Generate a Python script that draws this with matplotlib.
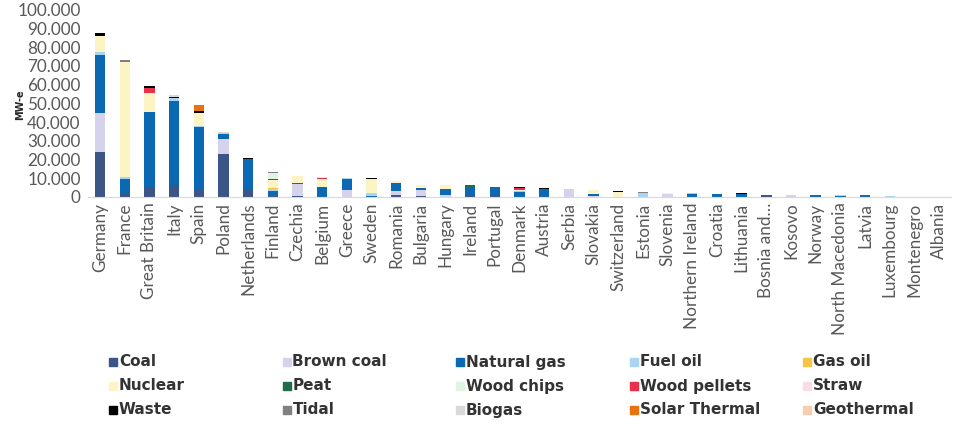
import matplotlib
matplotlib.use("Agg")
import matplotlib.pyplot as plt
from matplotlib.patches import Rectangle
from matplotlib.ticker import FuncFormatter, MultipleLocator
import numpy as np

# installed capacity by country and fuel (MW-e)
countries = ["Germany", "France", "Great Britain", "Italy", "Spain", "Poland",
             "Netherlands", "Finland", "Czechia", "Belgium", "Greece", "Sweden",
             "Romania", "Bulgaria", "Hungary", "Ireland", "Portugal", "Denmark",
             "Austria", "Serbia", "Slovakia", "Switzerland", "Estonia", "Slovenia",
             "Northern Ireland", "Croatia", "Lithuania", "Bosnia and…", "Kosovo",
             "Norway", "North Macedonia", "Latvia", "Luxembourg", "Montenegro",
             "Albania"]

#           DE     FR     GB     IT     ES     PL     NL    FI    CZ    BE    GR    SE    RO    BG    HU    IE    PT    DK    AT    RS    SK    CH    EE    SI    NI    HR    LT    BA    XK    NO    MK   LV   LU  ME AL
coal =     [23900, 1800,  5500,  6600,  3900,  23000, 3700, 700,  400,  0,    0,    0,    900,  300,  0,    500,  1200, 0,    0,    0,    0,    0,    0,    0,    200,  0,    0,    1200, 0,    0,    0,   0,   0,  0, 0]
brown =    [21100, 0,     0,     0,     0,     8000,  0,    0,    6300, 0,    3700, 0,    2500, 3600, 1000, 0,    0,    200,  0,    4100, 500,  0,    0,    1400, 0,    0,    0,    0,    1200, 0,    0,   0,   0,  0, 0]
gas =      [30800, 7600,  39800, 44600, 33400, 2400,  16400, 2700, 900, 5200, 5900, 700,  3900, 900,  3100, 4700, 3900, 2300, 4300, 300,  1000, 0,    200,  0,    1500, 1600, 1700, 0,    0,    1100, 400, 800, 0,  0, 0]
fuel_oil = [1600,  1500,  0,     1800,  700,   600,   0,    900,  0,    0,    300,  1600, 300,  0,    200,  300,  0,    0,    0,    0,    0,    0,    2100, 0,    0,    0,    0,    0,    0,    0,    500, 0,   300, 0, 0]
gas_oil =  [0,     0,     300,   0,     0,     0,     0,    700,  0,    0,    0,    0,    0,    0,    0,    0,    0,    500,  0,    0,    0,    0,    0,    0,    200,  0,    0,    0,    0,    0,    0,   0,   0,  0, 0]
nuclear =  [8600,  61400, 10000, 0,     7000,  0,     0,    3900, 3700, 4600, 0,    6600, 1000, 1800, 2100, 0,    0,    0,    0,    0,    2000, 2600, 0,    500,  0,    0,    0,    0,    0,    0,    0,   0,   0,  0, 0]
peat =     [0,     0,     0,     0,     0,     0,     0,    900,  0,    0,    0,    0,    0,    0,    0,    700,  0,    0,    0,    0,    0,    0,    0,    0,    0,    0,    0,    0,    0,    0,    0,   0,   0,  0, 0]
wood_chips = [0,   0,     0,     0,     0,     0,     0,    3200, 0,    0,    0,    700,  0,    0,    0,    0,    0,    500,  0,    0,    0,    0,    0,    0,    0,    0,    0,    0,    0,    0,    0,   0,   0,  0, 0]
wood_pellets = [0, 0,     2700,  0,     0,     0,     0,    0,    0,    500,  0,    0,    0,    0,    0,    0,    0,    1100, 0,    0,    0,    0,    0,    0,    0,    0,    0,    0,    0,    0,    0,   0,   0,  0, 0]
straw =    [0,     0,     0,     0,     0,     0,     0,    0,    0,    300,  0,    0,    0,    0,    0,    0,    0,    0,    0,    0,    0,    0,    0,    0,    0,    0,    0,    0,    0,    0,    0,   0,   0,  0, 0]
waste =    [1800,  0,     1200,  300,   700,   0,     900,  0,    0,    0,    0,    500,  0,    0,    0,    0,    0,    900,  300,  0,    0,    400,  0,    0,    0,    0,    200,  0,    0,    0,    0,   0,   0,  0, 0]
tidal =    [0,     700,   0,     0,     0,     0,     0,    500,  0,    0,    0,    0,    0,    0,    0,    0,    0,    0,    0,    0,    0,    0,    400,  0,    0,    0,    0,    0,    0,    0,    0,   0,   0,  0, 0]
biogas =   [0,     0,     0,     400,   0,     600,   0,    0,    0,    0,    0,    0,    0,    0,    0,    0,    0,    0,    0,    0,    0,    0,    0,    0,    0,    0,    0,    0,    0,    0,    0,   0,   0,  0, 0]
solar_thermal = [0, 0,    0,     0,     3200,  0,     0,    0,    0,    0,    0,    0,    0,    0,    0,    0,    0,    0,    0,    0,    0,    0,    0,    0,    0,    0,    0,    0,    0,    0,    0,   0,   0,  0, 0]
geothermal = [0,   0,     0,     600,   0,     0,     0,    0,    0,    0,    0,    0,    0,    0,    0,    0,    0,    0,    0,    0,    0,    0,    0,    0,    0,    0,    0,    0,    0,    0,    0,   0,   0,  0, 0]

fuels = ["Coal", "Brown coal", "Natural gas", "Fuel oil", "Gas oil",
         "Nuclear", "Peat", "Wood chips", "Wood pellets", "Straw",
         "Waste", "Tidal", "Biogas", "Solar Thermal", "Geothermal"]
series = [coal, brown, gas, fuel_oil, gas_oil,
          nuclear, peat, wood_chips, wood_pellets, straw,
          waste, tidal, biogas, solar_thermal, geothermal]
colors = ["#3b5587", "#d4d3eb", "#0b69b3", "#a9d5f3", "#f6c543",
          "#fdf4c5", "#1f6b4b", "#dff4e1", "#e8304b", "#f9dde5",
          "#000000", "#808080", "#d9d9d9", "#e8720c", "#f7cdb1"]

fig = plt.figure(figsize=(9.56, 4.26), dpi=100)
ax = fig.add_axes([0.0917, 0.5376, 0.9035, 0.4394])

x = np.arange(len(countries))
bottom = np.zeros(len(countries))
for name, vals, col in zip(fuels, series, colors):
    vals = np.array(vals, dtype=float)
    ax.bar(x, vals, 0.42, bottom=bottom, color=col, linewidth=0, label=name)
    bottom += vals

ax.set_xlim(-0.5, len(countries) - 0.5)
ax.set_ylim(0, 100000)
ax.yaxis.set_major_locator(MultipleLocator(10000))
ax.yaxis.set_major_formatter(FuncFormatter(lambda v, p: f"{int(v):,}".replace(",", ".")))
ax.set_xticks(x)
ax.set_xticklabels(countries, rotation=90)
for lab in ax.get_xticklabels() + ax.get_yticklabels():
    lab.set_fontfamily("Lato")
    lab.set_fontsize(12.3)
    lab.set_color("#595959")
ax.tick_params(length=0, pad=4)
ax.tick_params(axis="y", pad=5)

for s in ["top", "right", "left"]:
    ax.spines[s].set_visible(False)
ax.spines["bottom"].set_color("#d9d9d9")

fig.text(0.021, 0.755, "MW-e", rotation=90, ha="center", va="center",
         fontsize=7, fontweight="bold", color="#262626")

# legend, laid out row by row like the original
for i, (name, col) in enumerate(zip(fuels, colors)):
    r, c = divmod(i, 5)
    xs = 109 + c * 173.5
    ys = 426 - (362 + r * 24)
    fig.patches.append(Rectangle((xs / 956, (ys - 4) / 426), 8 / 956, 8 / 426,
                                 transform=fig.transFigure, color=col))
    fig.text((xs + 10) / 956, ys / 426, name, ha="left", va="center",
             fontsize=11, fontweight="bold", color="#333333")

fig.savefig("out.png", dpi=100)
